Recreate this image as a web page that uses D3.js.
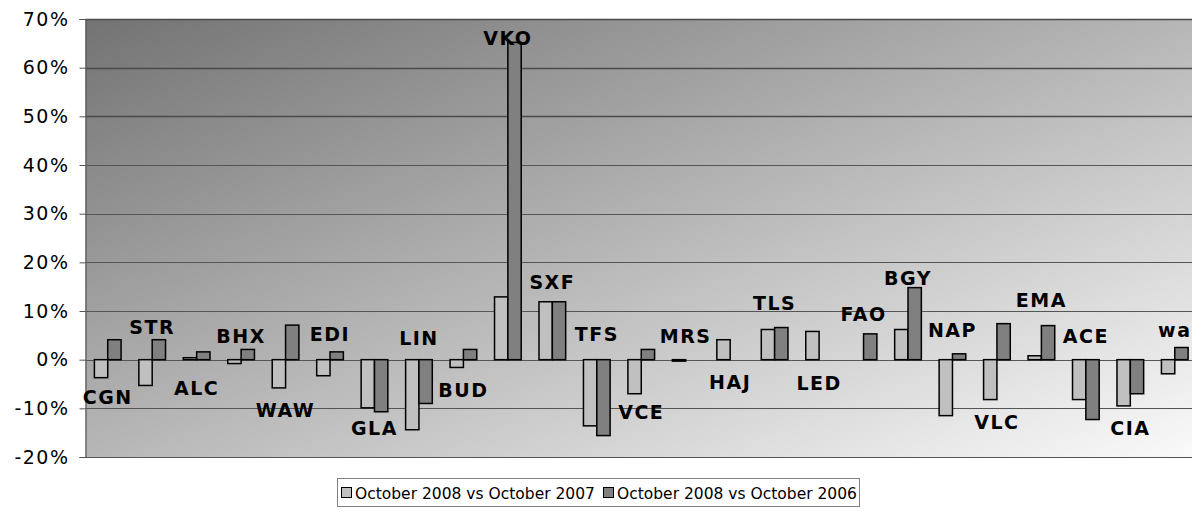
<!DOCTYPE html>
<meta charset="utf-8">
<style>
body { margin: 0; background: #fff; }
text { font-family: Verdana, "DejaVu Sans", sans-serif; }
</style>
<svg width="1192" height="512"></svg>
<script src="https://d3js.org/d3.v7.min.js"></script>
<script>

var airports = ["CGN", "STR", "ALC", "BHX", "WAW", "EDI", "GLA", "LIN", "BUD", "VKO",
                "SXF", "TFS", "VCE", "MRS", "HAJ", "TLS", "LED", "FAO", "BGY", "NAP",
                "VLC", "EMA", "ACE", "CIA", "wa"];

var seriesNames = ["October 2008 vs October 2007", "October 2008 vs October 2006"];

// % change, null = no bar
var vs2007 = [-3.7, -5.3, 0.4, -0.8, -5.8, -3.3, -9.9, -14.4, -1.6, 12.9,
              11.9, -13.6, -7.0, -0.3, 4.1, 6.2, 5.8, null, 6.2, -11.5,
              -8.2, 0.8, -8.2, -9.5, -2.9];
var vs2006 = [4.1, 4.1, 1.6, 2.1, 7.1, 1.6, -10.7, -9.0, 2.1, 65.2,
              11.9, -15.6, 2.1, null, null, 6.6, null, 5.3, 14.8, 1.2,
              7.4, 7.0, -12.3, -7.0, 2.5];

// level (in %) where each airport's name label sits
var labelLevel = [-9.1, 5.3, -7.3, 3.4, -11.8, 3.8, -15.5, 3.0, -7.7, 64.7,
                  14.5, 3.8, -12.2, 3.4, -6.0, 10.2, -6.2, 8.0, 15.3, 4.7,
                  -14.2, 10.8, 3.4, -15.5, 4.7];

var yTicks = [-20, -10, 0, 10, 20, 30, 40, 50, 60, 70];

var svg = d3.select("svg"),
    plotLeft = 85.5, plotRight = 1197, plotTop = 19, plotBottom = 457;

var x0 = d3.scaleBand()
    .domain(airports)
    .range([plotLeft, plotRight])
    .paddingInner(0.4)
    .paddingOuter(0.2);

var x1 = d3.scaleBand()
    .domain([0, 1])
    .range([0, x0.bandwidth()]);

var y = d3.scaleLinear()
    .domain([-20, 70])
    .range([plotBottom, plotTop]);

var colors = ["#c0c0c0", "#808080"];

// background gradient
var defs = svg.append("defs");
var grad = defs.append("linearGradient")
    .attr("id", "bg")
    .attr("x1", 0).attr("y1", 0).attr("x2", 1).attr("y2", 1);
grad.append("stop").attr("offset", "0%").attr("stop-color", "#737373");
grad.append("stop").attr("offset", "100%").attr("stop-color", "#fafafa");

svg.append("rect")
    .attr("x", plotLeft)
    .attr("y", plotTop)
    .attr("width", plotRight - plotLeft)
    .attr("height", plotBottom - plotTop)
    .attr("fill", "url(#bg)");

// gridlines
svg.append("g")
  .selectAll("line")
  .data(yTicks)
  .enter().append("line")
    .attr("x1", plotLeft)
    .attr("x2", plotRight)
    .attr("y1", function(d) { return Math.round(y(d)) + 0.5; })
    .attr("y2", function(d) { return Math.round(y(d)) + 0.5; })
    .attr("stroke", function(d) { return d >= 50 ? "#4a4a4a" : "#555"; })
    .attr("stroke-width", function(d) { return d >= 50 ? 1.6 : 1; });

// y axis
var yAxis = svg.append("g")
    .attr("transform", "translate(" + plotLeft + ",0)")
    .call(d3.axisLeft(y)
      .tickValues(yTicks)
      .tickSize(6)
      .tickPadding(10)
      .tickFormat(function(d) { return d + "%"; }));

yAxis.select(".domain").attr("stroke", "#555").attr("stroke-width", 1.2);
yAxis.selectAll(".tick line").attr("stroke", "#555");
yAxis.selectAll("text")
    .attr("font-family", "Verdana, 'DejaVu Sans', sans-serif")
    .attr("font-size", 19)
    .attr("letter-spacing", "1.5px")
    .attr("fill", "#000");

// bars
var series = [vs2007, vs2006];
var groups = svg.append("g")
  .selectAll("g")
  .data(airports)
  .enter().append("g")
    .attr("transform", function(d) { return "translate(" + x0(d) + ",0)"; });

groups.selectAll("rect")
  .data(function(d, i) {
    return series.map(function(s, k) { return {k: k, v: s[i]}; })
      .filter(function(e) { return e.v != null; });
  })
  .enter().append("rect")
    .attr("x", function(d) { return x1(d.k); })
    .attr("width", x1.bandwidth())
    .attr("y", function(d) { return y(Math.max(0, d.v)); })
    .attr("height", function(d) { return Math.abs(y(d.v) - y(0)); })
    .attr("fill", function(d) { return colors[d.k]; })
    .attr("stroke", "#000")
    .attr("stroke-width", 1.5);

// airport labels
svg.append("g")
  .selectAll("text")
  .data(airports)
  .enter().append("text")
    .attr("x", function(d) { return x0(d) + x0.bandwidth() / 2; })
    .attr("y", function(d, i) { return y(labelLevel[i]); })
    .attr("text-anchor", "middle")
    .attr("font-family", "Verdana, 'DejaVu Sans', sans-serif")
    .attr("font-weight", "bold")
    .attr("font-size", 19)
    .attr("letter-spacing", "1.5px")
    .attr("fill", "#000")
    .text(function(d) { return d; });

// legend
var legend = svg.append("g");
legend.append("rect")
    .attr("x", 337.5)
    .attr("y", 478.5)
    .attr("width", 522)
    .attr("height", 28)
    .attr("fill", "#fff")
    .attr("stroke", "#808080");

var item = legend.selectAll("g")
  .data(seriesNames)
  .enter().append("g")
    .attr("transform", function(d, i) { return "translate(" + (341 + i * 262) + ",0)"; });

item.append("rect")
    .attr("x", 0.5)
    .attr("y", 487.5)
    .attr("width", 10)
    .attr("height", 10)
    .attr("fill", function(d, i) { return colors[i]; })
    .attr("stroke", "#000");

item.append("text")
    .attr("x", 14)
    .attr("y", 498.5)
    .attr("font-size", 15.5)
    .attr("fill", "#000")
    .text(function(d) { return d; });

</script>
